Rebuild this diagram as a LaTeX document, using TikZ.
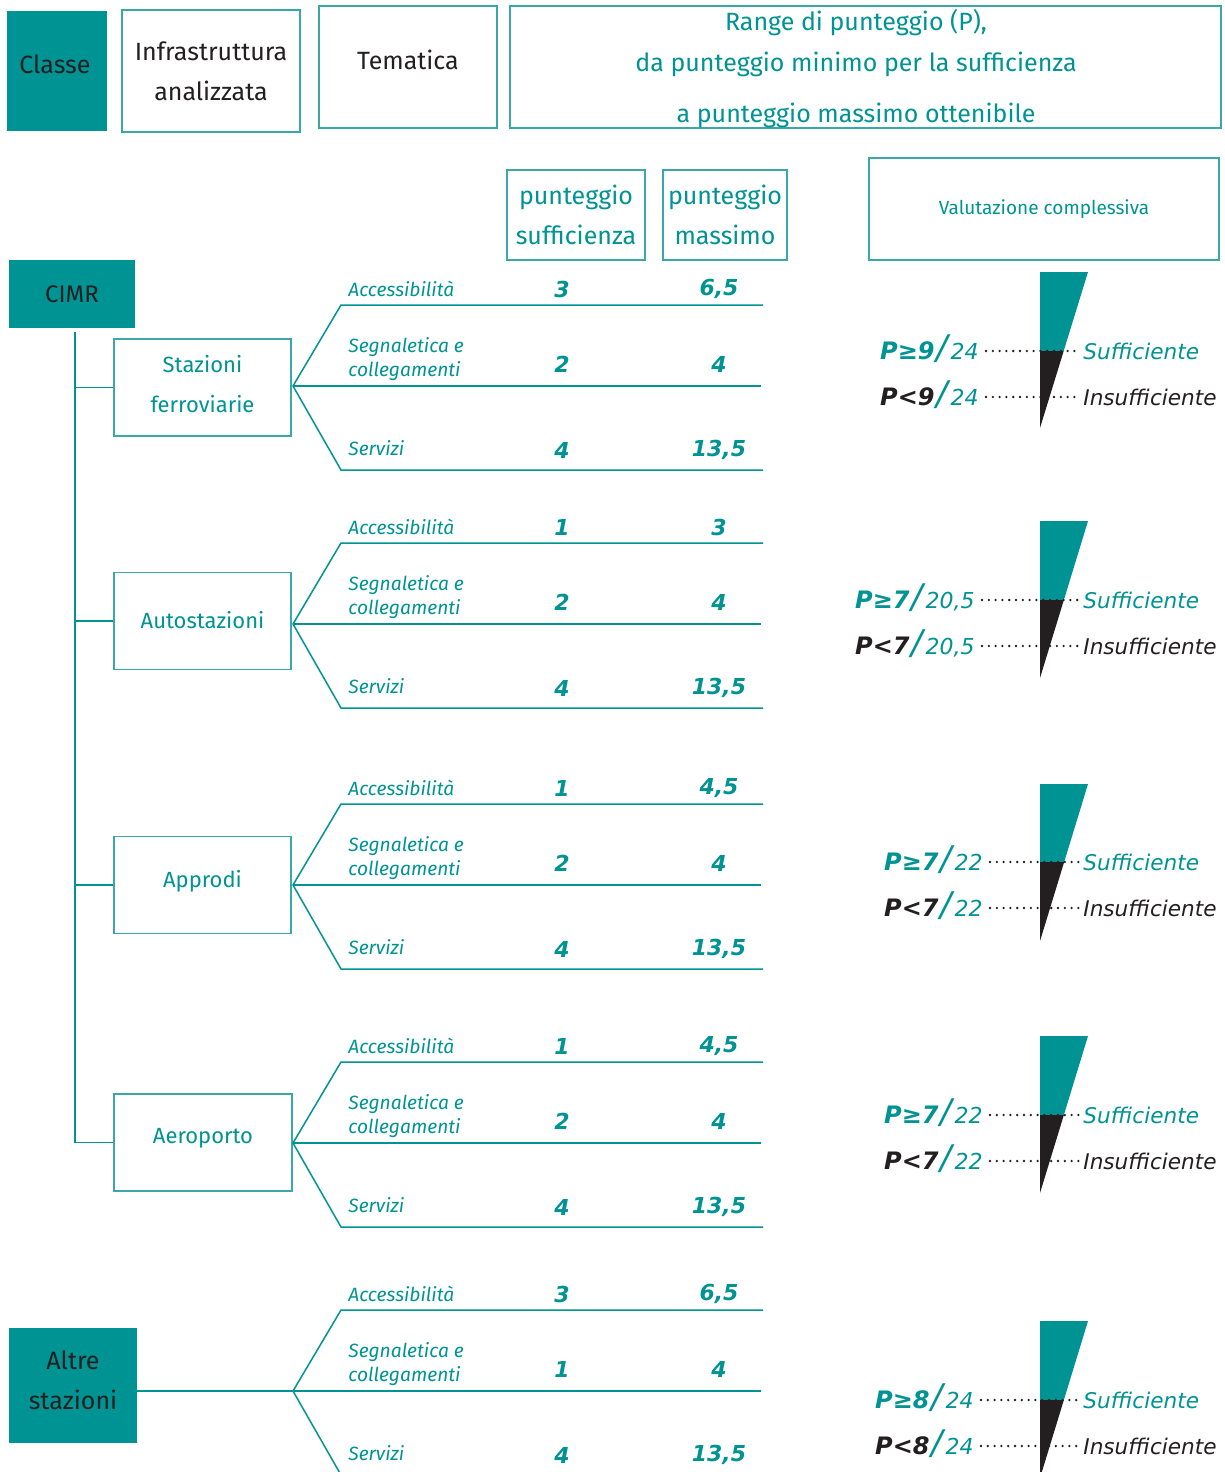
\documentclass[tikz,border=0pt]{standalone}
\usepackage{fontspec}
\setmainfont{Fira Sans}
\newfontfamily\dv{DejaVu Sans}
\usetikzlibrary{calc}
\definecolor{tl}{RGB}{0,147,148}
\definecolor{tlb}{RGB}{58,168,168}
\definecolor{dk}{RGB}{35,31,32}
\tikzset{
  sbox/.style={draw=tlb, line width=0.8pt, inner sep=0pt, align=center},
  fbox/.style={fill=tl, inner sep=0pt, text=dk, align=center},
  hdf/.style={font=\fontsize{12.5}{20}\selectfont},
  tline/.style={draw=tl, line width=0.75pt},
  lab/.style={font=\fontsize{9.6}{12}\selectfont\itshape, text=tl, inner sep=0pt, anchor=west, align=left},
  num/.style={font=\dv\bfseries\itshape\fontsize{11}{12}\selectfont, text=tl, inner sep=0pt},
  suf/.style={anchor=base west, inner sep=0pt, font=\dv\itshape\fontsize{10.8}{12}\selectfont},
  pv/.style={anchor=base east, inner sep=0pt, font=\dv\bfseries\itshape\fontsize{12}{14}\selectfont},
  dots/.style={draw=dk, line width=1.3pt, line cap=round, dash pattern=on 0pt off 3.4pt},
  infra/.style={sbox, minimum width=88.5pt, minimum height=48.5pt},
  infraT/.style={text=tl, font=\fontsize{11}{20}\selectfont, align=center, inner sep=0pt}
}
\newcommand\pden[1]{{\color{tl}\mdseries\kern0.8pt{\fontsize{17}{17}\selectfont/}\kern1.5pt\fontsize{11}{12}\selectfont #1}}
\newcommand\mkfan[8]{%
  \coordinate (#1) at (293,#2);
  \coordinate (#1t) at (341,{#2-81});
  \coordinate (#1b) at (341,{#2+84});
  \coordinate (#1te) at (763,{#2-81});
  \coordinate (#1me) at (761,#2);
  \coordinate (#1be) at (763,{#2+84});
  \draw[tline] (#1te) -- (#1t) -- (#1) -- (#1b) -- (#1be);
  \draw[tline] (#1) -- (#1me);
  \node[lab] (#1acc) at (348,{#2-97}) {Accessibilità};
  \node[lab] (#1seg) at (348,{#2-27}) {Segnaletica e\\collegamenti};
  \node[lab] (#1ser) at (348,{#2+62}) {Servizi};
  \node[num] (#1n1) at (562,{#2-97}) {#3};
  \node[num] (#1n2) at (719,{#2-97}) {#4};
  \node[num] (#1n3) at (562,{#2-22}) {#5};
  \node[num] (#1n4) at (719,{#2-22}) {#6};
  \node[num] (#1n5) at (562,{#2+64}) {#7};
  \node[num] (#1n6) at (719,{#2+64}) {#8};
}
\newcommand\mkwedge[7]{%
  \pgfmathsetmacro\wedgex{1088-48*(#3-#2)/(#4-#2)}%
  \fill[tl] (1040,#2) -- (1088,#2) -- (\wedgex,#3) -- (1040,#3) -- cycle;
  \fill[dk] (1040,#3) -- (\wedgex,#3) -- (1040,#4) -- cycle;
  \node[suf, text=tl] (#1su) at (1083,{#3+8}) {Sufficiente};
  \node[suf, text=dk] (#1in) at (1083,{#3+54}) {Insufficiente};
  \node[pv, text=tl] (#1pg) at (#7,{#3+8}) {P≥#5\pden{#6}};
  \node[pv, text=dk] (#1pl) at (#7,{#3+54}) {P<#5\pden{#6}};
  \draw[dots] ($(#1pg.base east)+(3.5pt,4pt)$) -- ($(#1su.base west)+(-1pt,4pt)$);
  \draw[dots] ($(#1pl.base east)+(3.5pt,4pt)$) -- ($(#1in.base west)+(-1pt,4pt)$);
}
\begin{document}
\begin{tikzpicture}[x=0.5pt,y=-0.5pt]
\useasboundingbox (0,0) rectangle (1225,1472);
\clip (0,0) rectangle (1225,1472);
\fill[white] (0,0) rectangle (1225,1472);
% header
\node[fbox, minimum width=50pt, minimum height=60pt] (classe) at (57,71) {};
\node[hdf, text=dk, inner sep=0pt] (classeT) at (55,64) {Classe};
\node[sbox, hdf, text=dk, minimum width=89pt, minimum height=61pt] (infra) at (211,71) {Infrastruttura\\analizzata};
\node[sbox, minimum width=89pt, minimum height=61pt] (tematica) at (408,67) {};
\node[hdf, text=dk, inner sep=0pt] (tematicaT) at (408,60) {Tematica};
\node[sbox, minimum width=355.5pt, minimum height=61pt] (range) at (865.5,67) {};
\node[text=tl, align=center, inner sep=0pt, font=\fontsize{12.5}{20.5}\selectfont] (rangeT) at (856,69) {Range di punteggio (P),\\da punteggio minimo per la sufficienza\\[5pt]a punteggio massimo ottenibile};
\node[sbox, text=tl, minimum width=69pt, minimum height=45pt, font=\fontsize{12.5}{20}\selectfont] (psuf) at (576,215) {punteggio\\sufficienza};
\node[sbox, text=tl, minimum width=62pt, minimum height=45pt, font=\fontsize{12.5}{20}\selectfont] (pmax) at (725,215) {punteggio\\massimo};
\node[sbox, text=tl, minimum width=175pt, minimum height=51pt, font=\fontsize{9.5}{12}\selectfont] (valut) at (1044,209) {Valutazione complessiva};
% classes
\node[fbox, minimum width=63pt, minimum height=34pt, font=\fontsize{12}{20}\selectfont] (cimr) at (72,294) {CIMR};
\node[fbox, minimum width=64pt, minimum height=57.5pt, font=\fontsize{12.5}{20}\selectfont] (altre) at (73,1385.5) {};
\node[text=dk, align=center, inner sep=0pt, font=\fontsize{12.5}{20}\selectfont] (altreT) at (73,1380) {Altre\\stazioni};
% infrastructures
\node[infra] (staz) at (202.5,387.5) {};
\node[infraT] (stazT) at (202.5,384) {Stazioni\\ferroviarie};
\node[infra] (auto) at (202.5,621) {};
\node[infraT] (autoT) at (202.5,620) {Autostazioni};
\node[infra] (appr) at (202.5,885) {};
\node[infraT] (apprT) at (202.5,881) {Approdi};
\node[infra, minimum width=89pt] (aero) at (203,1142.5) {};
\node[infraT] (aeroT) at (203,1138) {Aeroporto};
% tree trunk
\coordinate (tk) at (75,0);
\draw[tline] ([xshift=1.5pt,yshift=-2pt]cimr.south) |- (aero.west);
\draw[tline] (staz.west) -- (staz.west -| tk);
\draw[tline] (auto.west) -- (auto.west -| tk);
\draw[tline] (appr.west) -- (appr.west -| tk);
% fans
\mkfan{fS}{386}{3}{6,5}{2}{4}{4}{13,5}
\mkfan{fA}{624}{1}{3}{2}{4}{4}{13,5}
\mkfan{fP}{885}{1}{4,5}{2}{4}{4}{13,5}
\mkfan{fR}{1143}{1}{4,5}{2}{4}{4}{13,5}
\mkfan{fO}{1391}{3}{6,5}{1}{4}{4}{13,5}
\draw[tline] (altre.east |- fO) -- (fO);
% wedges
\mkwedge{wS}{272}{351}{428}{9}{24}{979}
\mkwedge{wA}{521}{600}{678}{7}{20,5}{975}
\mkwedge{wP}{784}{862}{941}{7}{22}{983}
\mkwedge{wR}{1036}{1115}{1193}{7}{22}{983}
\mkwedge{wO}{1321}{1400}{1478}{8}{24}{974}
\end{tikzpicture}
\end{document}
